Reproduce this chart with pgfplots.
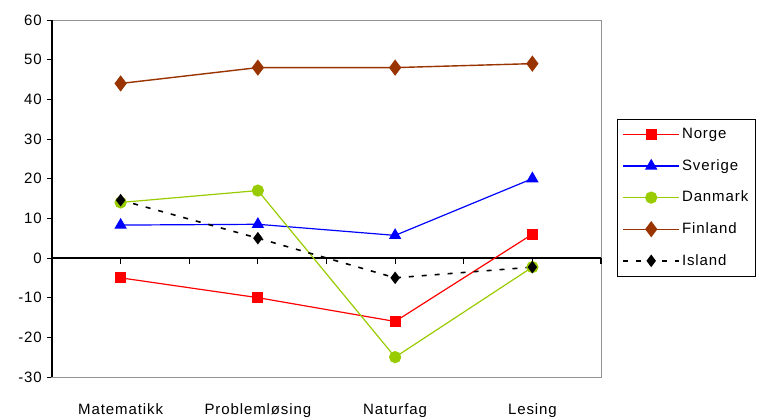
\documentclass[border=0pt]{standalone}
\usepackage{pgfplots}
\pgfplotsset{compat=1.18}
\usepackage{fontspec}
\setmainfont{Liberation Sans}[LetterSpace=6]
\definecolor{cfin}{HTML}{993300}
\definecolor{cdan}{HTML}{99CC00}
\begin{document}
\fontsize{15bp}{18bp}\selectfont
\begin{tikzpicture}
\path[use as bounding box] (-52bp,-41bp) rectangle (706bp,377bp);
\begin{axis}[at={(0,0)}, anchor=south west, scale only axis,
  width=549bp, height=357bp,
  xmin=-0.5, xmax=3.5, ymin=-30, ymax=60,
  xtick={0,1,2,3}, xticklabels={Matematikk,Problemløsing,Naturfag,Lesing},
  x tick style={draw=none}, xticklabel style={yshift=-16bp},
  ytick={-30,-20,...,60}, yticklabels={-30,-20,-10,0,10,20,30,40,50,60},
  y tick style={black, line width=1bp}, tick align=outside, ytick pos=left,
  major tick length=5bp,
  axis line style={gray!85, line width=1bp},
  tick label style={font=\fontsize{15bp}{18bp}\selectfont},
  legend style={at={(1.029,0.723)}, anchor=north west, draw=black, line width=1bp,
    font=\fontsize{15bp}{18bp}\selectfont, row sep=14.5bp, inner xsep=5bp, inner ysep=7bp,
    cells={anchor=west}, column 2/.style={nodes={text width=66bp}}},
  legend image code/.code={\draw[mark repeat=2,mark phase=2,#1] plot coordinates {(0bp,0bp) (28bp,0bp) (56bp,0bp)};},
  clip=false]
\draw[black, line width=1.3bp] (axis cs:-0.5,0) -- (axis cs:3.5,0);
\draw[black, line width=1.2bp] (axis cs:-0.5,0) -- (axis cs:-0.5,-1.4);
\draw[black, line width=1.2bp] (axis cs:0,0) -- (axis cs:0,-1.4);
\draw[black, line width=1.2bp] (axis cs:0.5,0) -- (axis cs:0.5,-1.4);
\draw[black, line width=1.2bp] (axis cs:1,0) -- (axis cs:1,-1.4);
\draw[black, line width=1.2bp] (axis cs:1.5,0) -- (axis cs:1.5,-1.4);
\draw[black, line width=1.2bp] (axis cs:2,0) -- (axis cs:2,-1.4);
\draw[black, line width=1.2bp] (axis cs:2.5,0) -- (axis cs:2.5,-1.4);
\draw[black, line width=1.2bp] (axis cs:3,0) -- (axis cs:3,-1.4);
\draw[black, line width=1.2bp] (axis cs:3.5,0) -- (axis cs:3.5,-1.4);
\draw[black, line width=1.3bp] (rel axis cs:0,0) -- (rel axis cs:0,1);
\addplot[color=red, line width=1.2bp, mark=square*, mark size=5bp, mark options={solid}]
  coordinates {(0,-5) (1,-10) (2,-16) (3,6)};
\addlegendentry{Norge}
\addplot[color=blue, line width=1.2bp, mark=triangle*, mark size=6bp, mark options={solid}]
  coordinates {(0,8.3) (1,8.5) (2,5.7) (3,20)};
\addlegendentry{Sverige}
\addplot[color=cdan, line width=1.2bp, mark=*, mark size=5.5bp, mark options={solid}]
  coordinates {(0,14) (1,17) (2,-25) (3,-2.3)};
\addlegendentry{Danmark}
\addplot[color=cfin, line width=1.4bp, mark=diamond*, mark size=7bp, mark options={solid}]
  coordinates {(0,44) (1,48) (2,48) (3,49)};
\addlegendentry{Finland}
\addplot[color=black, line width=1.6bp, dash pattern=on 5bp off 8bp, mark=diamond*, mark size=5bp, mark options={solid}]
  coordinates {(0,14.6) (1,5) (2,-5) (3,-2.3)};
\addlegendentry{Island}
\end{axis}
\end{tikzpicture}
\end{document}
